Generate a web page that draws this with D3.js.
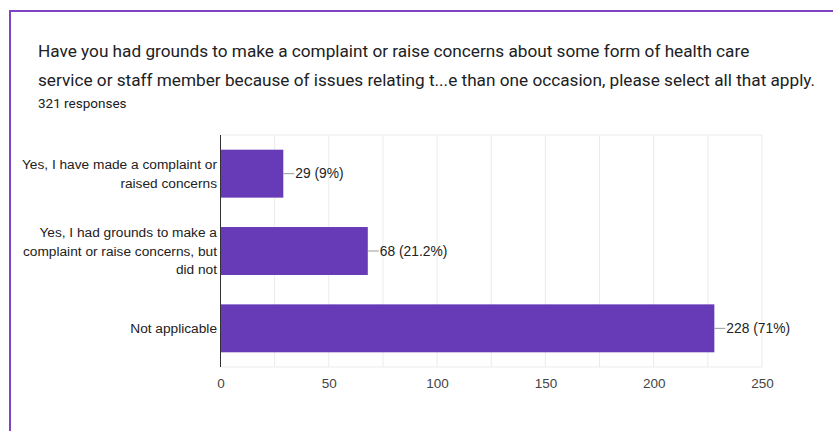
<!DOCTYPE html>
<html>
<head>
<meta charset="utf-8">
<script src="https://cdn.jsdelivr.net/npm/d3@7"></script>
<style>
  html, body { margin: 0; padding: 0; background: #fff; }
  svg { display: block; font-family: Roboto, "Noto Sans", Arial, sans-serif; }
  .chartText { font-family: "Liberation Sans", Arial, sans-serif; }
</style>
</head>
<body>
<svg id="chart" width="833" height="431"></svg>
<script>
// Survey question and answer counts
const titleLines = [
  "Have you had grounds to make a complaint or raise concerns about some form of health care",
  "service or staff member because of issues relating t...e than one occasion, please select all that apply."
];
const responsesLabel = "321 responses";
const categories = [
  ["Yes, I have made a complaint or", "raised concerns"],
  ["Yes, I had grounds to make a", "complaint or raise concerns, but", "did not"],
  ["Not applicable"]
];
const values = [29, 68, 228];
const percents = ["9%", "21.2%", "71%"];
const tickValues = [0, 50, 100, 150, 200, 250];
const gridValues = [25, 50, 75, 100, 125, 150, 175, 200, 225, 250];

const svg = d3.select("#chart");

// Card outline
svg.append("path")
  .attr("d", "M10,433 V11 H835")
  .attr("fill", "none")
  .attr("stroke", "#7e44c4")
  .attr("stroke-width", 2);

// Heading
svg.selectAll("text.title")
  .data(titleLines)
  .join("text")
  .attr("class", "title")
  .attr("x", 38)
  .attr("y", (d, i) => 57 + i * 29)
  .attr("font-size", 17.2)
  .attr("fill", "#202124")
  .text(d => d);

svg.append("text")
  .attr("x", 38)
  .attr("y", 108)
  .attr("font-size", 13.5)
  .attr("fill", "#202124")
  .text(responsesLabel);

const margin = { left: 220.5, top: 135, right: 762, bottom: 367 };

const x = d3.scaleLinear().domain([0, 250]).range([margin.left, margin.right]);
const y = d3.scaleBand()
  .domain(d3.range(values.length))
  .range([margin.top, margin.bottom])
  .paddingInner(0.38)
  .paddingOuter(0.19);

const plot = svg.append("g").attr("class", "chartText");

// Vertical gridlines
plot.selectAll("line.grid")
  .data(gridValues)
  .join("line")
  .attr("class", "grid")
  .attr("x1", d => x(d)).attr("x2", d => x(d))
  .attr("y1", margin.top).attr("y2", margin.bottom)
  .attr("stroke", "#ebebeb")
  .attr("stroke-width", 1);

// Top and bottom frame lines
[margin.top, margin.bottom].forEach(yy => {
  plot.append("line")
    .attr("x1", margin.left).attr("x2", margin.right)
    .attr("y1", yy).attr("y2", yy)
    .attr("stroke", "#ebebeb");
});

// Bars
plot.selectAll("rect.bar")
  .data(values)
  .join("rect")
  .attr("class", "bar")
  .attr("x", x(0))
  .attr("y", (d, i) => y(i))
  .attr("width", d => x(d) - x(0))
  .attr("height", y.bandwidth())
  .attr("fill", "#673ab7");

// Baseline
plot.append("line")
  .attr("x1", x(0)).attr("x2", x(0))
  .attr("y1", margin.top).attr("y2", margin.bottom)
  .attr("stroke", "#333")
  .attr("stroke-width", 1);

// Value annotations with leader lines
values.forEach((v, i) => {
  const cy = y(i) + y.bandwidth() / 2;
  plot.append("line")
    .attr("x1", x(v)).attr("x2", x(v) + 11)
    .attr("y1", cy).attr("y2", cy)
    .attr("stroke", "#999")
    .attr("stroke-width", 1);
  plot.append("text")
    .attr("x", x(v) + 12)
    .attr("y", cy)
    .attr("dy", "0.35em")
    .attr("font-size", 13.8)
    .attr("fill", "#222")
    .text(`${v} (${percents[i]})`);
});

// Category labels
categories.forEach((lines, i) => {
  const cy = y(i) + y.bandwidth() / 2;
  const lh = 18.3;
  const start = cy - (lines.length - 1) * lh / 2;
  const t = plot.append("text")
    .attr("text-anchor", "end")
    .attr("font-size", 13.7)
    .attr("fill", "#222");
  lines.forEach((ln, j) => {
    t.append("tspan")
      .attr("x", margin.left - 3.5)
      .attr("y", start + j * lh)
      .attr("dy", "0.35em")
      .text(ln);
  });
});

// X axis tick labels
const xAxis = d3.axisBottom(x)
  .tickValues(tickValues)
  .tickSize(0)
  .tickPadding(0)
  .tickFormat(d3.format("d"));
const ax = svg.append("g")
  .attr("transform", `translate(0,${margin.bottom})`)
  .call(xAxis);
ax.select(".domain").remove();
ax.selectAll("text")
  .attr("y", 16)
  .attr("dy", "0.35em")
  .attr("font-size", 13.5)
  .attr("font-family", "'Liberation Sans', Arial, sans-serif")
  .attr("fill", "#444");
</script>
</body>
</html>
